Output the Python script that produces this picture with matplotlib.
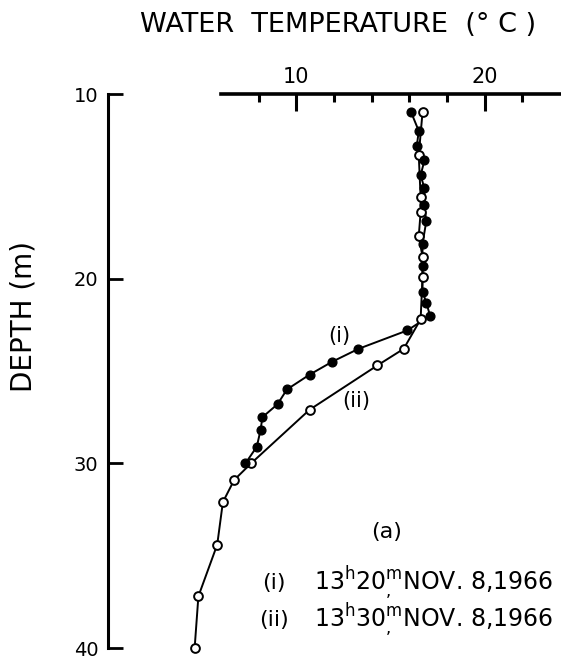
import matplotlib
matplotlib.use("agg")
import matplotlib.pyplot as plt

# (i) 13h20m, filled circles
depth_i = [11.0, 12.0, 12.8, 13.6, 14.4, 15.1, 16.0, 16.9, 18.1, 19.3, 20.7, 21.3,
           22.0, 22.8, 23.8, 24.5, 25.2, 26.0, 26.8, 27.5, 28.2, 29.1, 30.0]
temp_i = [16.1, 16.5, 16.4, 16.8, 16.6, 16.8, 16.8, 16.9, 16.7, 16.7, 16.7, 16.9,
          17.1, 15.9, 13.3, 11.9, 10.7, 9.5, 9.0, 8.2, 8.1, 7.9, 7.3]

# (ii) 13h30m, open circles
depth_ii = [11.0, 13.3, 15.6, 16.4, 17.7, 18.8, 19.9, 22.2, 23.8, 24.7, 27.1,
            30.0, 30.9, 32.1, 34.4, 37.2, 40.0]
temp_ii = [16.7, 16.5, 16.6, 16.6, 16.5, 16.7, 16.7, 16.6, 15.7, 14.3, 10.7,
           7.6, 6.7, 6.1, 5.8, 4.8, 4.6]

x_major = [10, 20]
x_minor = [8, 12, 14, 16, 18, 22]
y_ticks = [10, 20, 30, 40]

fig = plt.figure(figsize=(5.61, 6.61), dpi=100)
ax = fig.add_axes([108 / 561, 1 - 648 / 661, 452 / 561, 554 / 661])

ax.plot(temp_ii, depth_ii, color="black", lw=1.4, zorder=2)
ax.plot(temp_i, depth_i, color="black", lw=1.4, zorder=2)
ax.plot(temp_ii, depth_ii, "o", ms=6.3, mfc="white", mec="black", mew=1.4,
        zorder=3, clip_on=False)
ax.plot(temp_i, depth_i, "o", ms=6.3, mfc="black", mec="black", zorder=4,
        clip_on=False)

ax.set_xlim(0, 24)
ax.set_ylim(40, 10)

for s in ["right", "bottom"]:
    ax.spines[s].set_visible(False)
ax.spines["top"].set_bounds(6, 24)
ax.spines["left"].set_bounds(10, 40)
ax.spines["top"].set_linewidth(2.6)
ax.spines["left"].set_linewidth(2.2)

ax.xaxis.tick_top()
ax.set_xticks(x_major)
ax.set_xticks(x_minor, minor=True)
ax.set_yticks(y_ticks)
ax.tick_params(axis="x", which="major", direction="in", length=12, width=2.2,
               labelsize=15, pad=5)
ax.tick_params(axis="x", which="minor", direction="in", length=6, width=2.2)
ax.tick_params(axis="y", which="major", direction="in", length=11, width=2.0,
               labelsize=14, pad=7)

fig.text(338 / 561, 1 - 25 / 661, "WATER  TEMPERATURE  (° C )", fontsize=19.5,
         ha="center", va="center")
fig.text(24 / 561, 1 - 317 / 661, "DEPTH (m)", fontsize=20, rotation=90,
         ha="center", va="center")

ax.text(12.3, 23.1, "(i)", fontsize=15, ha="center", va="center")
ax.text(13.2, 26.6, "(ii)", fontsize=15, ha="center", va="center")
ax.text(14.8, 33.7, "(a)", fontsize=16, ha="center", va="center")

ax.text(8.8, 36.5, "(i)", fontsize=16, ha="center", va="center")
ax.text(8.8, 38.5, "(ii)", fontsize=16, ha="center", va="center")
ax.text(17.3, 36.5, r"13$^\mathrm{h}$20$^\mathrm{m}_{,}$NOV. 8,1966",
        fontsize=17, ha="center", va="center")
ax.text(17.3, 38.5, r"13$^\mathrm{h}$30$^\mathrm{m}_{,}$NOV. 8,1966",
        fontsize=17, ha="center", va="center")

fig.savefig("out.png", dpi=100)
